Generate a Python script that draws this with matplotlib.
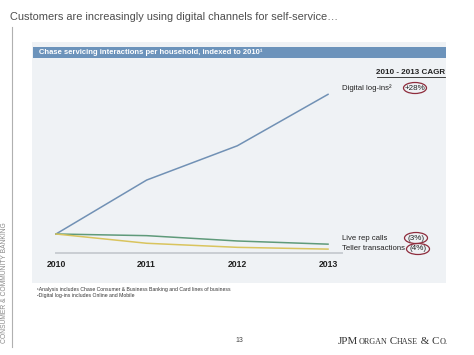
import matplotlib
matplotlib.use("Agg")
import matplotlib.pyplot as plt
from matplotlib.patches import Rectangle, Ellipse
from matplotlib.lines import Line2D

# ---- data ----
years = [2010, 2011, 2012, 2013]
year_labels = ["2010", "2011", "2012", "2013"]
digital_logins = [100, 142.5, 169.5, 210]
live_rep_calls = [100, 98.7, 94.5, 92.0]
teller_transactions = [100, 92.7, 89.5, 88.1]
series_names = ["Digital log-ins²", "Live rep calls", "Teller transactions"]
cagr_labels = ["+28%", "(3%)", "(4%)"]

W, H = 474, 355
plt.rcParams['font.family'] = ['Liberation Sans', 'DejaVu Sans']
fig = plt.figure(figsize=(W / 100, H / 100), dpi=100)
fig.patch.set_facecolor("white")


def fx(x):
    return x / W


def fy(y):
    return 1 - y / H


def T(x, y, s, **kw):
    kw.setdefault("va", "center")
    return fig.text(fx(x), fy(y), s, **kw)


# title
T(10, 17, "Customers are increasingly using digital channels for self-service…",
  fontsize=7.9, color="#4e4e4e")

# left vertical rule and side text
fig.add_artist(Line2D([fx(12), fx(12)], [fy(27), fy(347)], color="#b0b0b0", lw=0.8))
T(5, 283, "CONSUMER & COMMUNITY BANKING", rotation=90, ha="center",
  fontsize=4.9, color="#8a8a8a")

# panel background
fig.add_artist(Rectangle((fx(32), fy(283)), fx(446) - fx(32), fy(42) - fy(283),
                         transform=fig.transFigure, facecolor="#eff2f5",
                         edgecolor="none", zorder=0))
# header bar
fig.add_artist(Rectangle((fx(33), fy(58)), fx(446) - fx(33), fy(47) - fy(58),
                         transform=fig.transFigure, facecolor="#6c93bb",
                         edgecolor="none", zorder=1))
T(39, 52.5, "Chase servicing interactions per household, indexed to 2010¹",
  fontsize=5.5, color="white", fontweight="bold", zorder=2)

# ---- chart axes ----
x_left, x_right = 56, 342
y_base, y_top = 253.3, 80
ax = fig.add_axes([fx(x_left), fy(y_base), fx(x_right) - fx(x_left), fy(y_top) - fy(y_base)])
ax.set_facecolor("none")
ax.plot(years, digital_logins, color="#7191b5", lw=1.1, clip_on=False)
ax.plot(years, live_rep_calls, color="#5f9a7a", lw=1.1, clip_on=False)
ax.plot(years, teller_transactions, color="#d9c45e", lw=1.1, clip_on=False)
ax.set_xlim(2010, 2013.154)
ax.set_ylim(84.8, 221.3)
for s in ["top", "right", "left"]:
    ax.spines[s].set_visible(False)
ax.spines["bottom"].set_color("#c9ced3")
ax.spines["bottom"].set_linewidth(1.4)
ax.set_yticks([])
ax.set_xticks(years)
ax.set_xticklabels(year_labels, fontsize=6.2, fontweight="bold", color="#222222")
ax.tick_params(axis="x", length=0, pad=5)

# CAGR header
T(411, 72, "2010 - 2013 CAGR", ha="center", fontsize=5.8, fontweight="bold", color="#222222")
fig.add_artist(Line2D([fx(377), fx(445)], [fy(76.5), fy(76.5)], color="#222222", lw=0.6))

# series labels and CAGR values
label_y = [88, 238, 249]
label_x = [342, 342, 342]
ell_x = [415, 416, 418]
for name, lab, lx, ly, ex in zip(series_names, cagr_labels, label_x, label_y, ell_x):
    T(lx, ly, name, fontsize=5.6, color="#222222")
    T(ex, ly, lab, ha="center", fontsize=5.8, color="#222222")
    fig.add_artist(Ellipse((fx(ex), fy(ly)), fx(23), 11 / H, transform=fig.transFigure,
                           facecolor="none", edgecolor="#8e2c3c", lw=0.9))

# footnotes
T(37, 289, "¹Analysis includes Chase Consumer & Business Banking and Card lines of business",
  fontsize=3.7, color="#333333")
T(37, 295.5, "²Digital log-ins includes Online and Mobile", fontsize=3.7, color="#333333")

# page number
T(239, 341, "13", ha="center", fontsize=5.0, color="#444444")

# logo (faux small caps)
pieces = [("JPM", 7.9), ("ORGAN", 5.9), (" C", 7.9), ("HASE", 5.9), (" & C", 7.9), ("O.", 5.9)]
fig.canvas.draw()
renderer = fig.canvas.get_renderer()
x = 338.0
for s, fs in pieces:
    tt = fig.text(fx(x), fy(344), s, fontsize=fs, color="#333333",
                  family="Liberation Serif", va="baseline")
    bb = tt.get_window_extent(renderer=renderer)
    x += bb.width

fig.savefig("out.png", dpi=100)
